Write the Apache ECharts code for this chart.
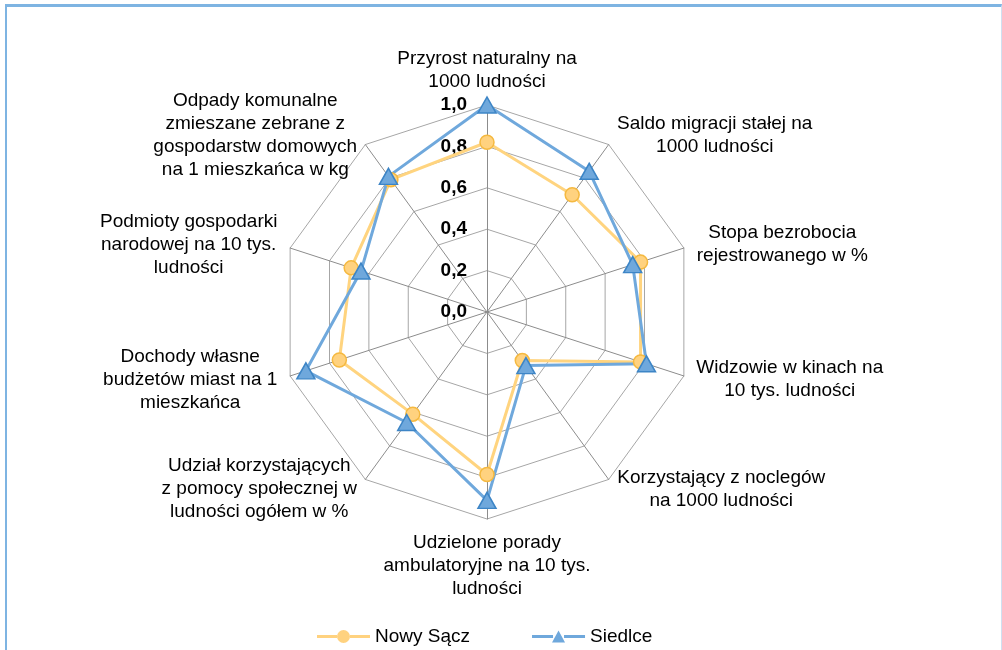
<!DOCTYPE html>
<html>
<head>
<meta charset="utf-8">
<script src="https://cdn.jsdelivr.net/npm/echarts@6/dist/echarts.min.js"></script>
<style>
  html, body { margin: 0; padding: 0; background: #fff; }
  #main { position: absolute; left: 0; top: 0; width: 1002px; height: 650px; }
  #frame {
    position: absolute; left: 5px; top: 4px; width: 994px; height: 700px;
    border-top: 3px solid #7EB4E2; border-left: 2px solid #7EB4E2; border-right: 1px solid #CFE0F1;
    pointer-events: none;
  }
</style>
</head>
<body>
<div id="main"></div>
<div id="frame"></div>
<script>
// osie w kolejnosci jak na wykresie (zgodnie z ruchem wskazowek zegara, od gory)
var categories = [
  'Przyrost naturalny na\n1000 ludności',
  'Saldo migracji stałej na\n1000 ludności',
  'Stopa bezrobocia\nrejestrowanego w %',
  'Widzowie w kinach na\n10 tys. ludności',
  'Korzystający z noclegów\nna 1000 ludności',
  'Udzielone porady\nambulatoryjne na 10 tys.\nludności',
  'Udział korzystających\nz pomocy społecznej w\nludności ogółem w %',
  'Dochody własne\nbudżetów miast na 1\nmieszkańca',
  'Podmioty gospodarki\nnarodowej na 10 tys.\nludności',
  'Odpady komunalne\nzmieszane zebrane z\ngospodarstw domowych\nna 1 mieszkańca w kg'
];
var nowySacz = [0.82, 0.70, 0.78, 0.78, 0.29, 0.785, 0.61, 0.75, 0.69, 0.79];
var siedlce = [1.0, 0.84, 0.74, 0.81, 0.32, 0.91, 0.66, 0.92, 0.64, 0.81];
var seriesNames = ['Nowy Sącz', 'Siedlce'];
var axisMin = 0, axisMax = 1, axisStep = 0.2;

var FONT = '"Liberation Sans", Arial, sans-serif';
var FS = 19;

// radar w echarts idzie przeciwnie do wskazowek, wiec odwracamy kolejnosc (poza pierwsza osia)
var order = [0];
for (var i = categories.length - 1; i > 0; i--) order.push(i);
function reorder(arr) { return order.map(function (k) { return arr[k]; }); }

// szerokosc bloku etykiety, zeby linie byly wysrodkowane
var ctx = document.createElement('canvas').getContext('2d');
ctx.font = FS + 'px ' + FONT;
var rich = {};
var keyOf = {};
categories.forEach(function (name, k) {
  var w = 0;
  name.split('\n').forEach(function (l) { w = Math.max(w, ctx.measureText(l).width); });
  rich['w' + k] = { width: Math.ceil(w) + 2, align: 'center', fontSize: FS, lineHeight: 23, color: '#000', fontFamily: FONT };
  keyOf[name] = 'w' + k;
});

var indicator = reorder(categories).map(function (name, k) {
  var ind = { name: name, min: axisMin, max: axisMax };
  if (k === 0) {
    ind.axisLabel = {
      show: true,
      showMinLabel: true,
      color: '#000',
      fontWeight: 'bold',
      fontSize: FS,
      fontFamily: FONT,
      margin: 20,
      formatter: function (v) { return Number(v).toFixed(1).replace('.', ','); }
    };
  }
  return ind;
});

var chart = echarts.init(document.getElementById('main'), null, { renderer: 'canvas' });

// ikony legendy: linia + znacznik (odcinki nie nachodza na znacznik)
var circlePath = 'path://M0,4.5 H20 V7.5 H0 Z M33,4.5 H53 V7.5 H33 Z M20,6 A6.5,6.5 0 1,1 33,6 A6.5,6.5 0 1,1 20,6 Z';
var triPath = 'path://M0,4.5 H21 V7.5 H0 Z M32,4.5 H53 V7.5 H32 Z M26.5,0 L33,12 L20,12 Z';

chart.setOption({
  animation: false,
  legend: {
    left: 312,
    top: 622,
    itemWidth: 53,
    itemHeight: 13,
    itemGap: 62,
    itemStyle: { borderWidth: 0 },
    textStyle: { fontSize: FS, color: '#000', fontFamily: FONT },
    data: [
      { name: seriesNames[0], icon: circlePath },
      { name: seriesNames[1], icon: triPath }
    ]
  },
  radar: {
    center: [487, 312],
    radius: 207,
    startAngle: 90,
    shape: 'polygon',
    splitNumber: Math.round((axisMax - axisMin) / axisStep),
    indicator: indicator,
    axisName: {
      color: '#000',
      fontSize: FS,
      fontFamily: FONT,
      lineHeight: 23,
      formatter: function (name) {
        var key = keyOf[name];
        return name.split('\n').map(function (l) { return '{' + key + '|' + l + '}'; }).join('\n');
      },
      rich: rich
    },
    nameGap: 12,
    axisLine: { lineStyle: { color: '#8C8C8C', width: 1 } },
    splitLine: { lineStyle: { color: '#A6A6A6', width: 1 } },
    splitArea: { show: false },
    axisLabel: { show: false }
  },
  series: [{
    type: 'radar',
    symbol: 'none',
    data: [
      {
        name: seriesNames[0],
        value: reorder(nowySacz),
        symbol: 'circle',
        symbolSize: 14,
        lineStyle: { color: '#FFD47F', width: 3 },
        itemStyle: { color: '#FFD27F', borderColor: '#F5B940', borderWidth: 1.5 }
      },
      {
        name: seriesNames[1],
        value: reorder(siedlce),
        symbol: 'triangle',
        symbolSize: [18, 16],
        lineStyle: { color: '#6FA8DC', width: 3 },
        itemStyle: { color: '#6FA8DC', borderColor: '#3D85C6', borderWidth: 1.5 }
      }
    ]
  }]
});
</script>
</body>
</html>
